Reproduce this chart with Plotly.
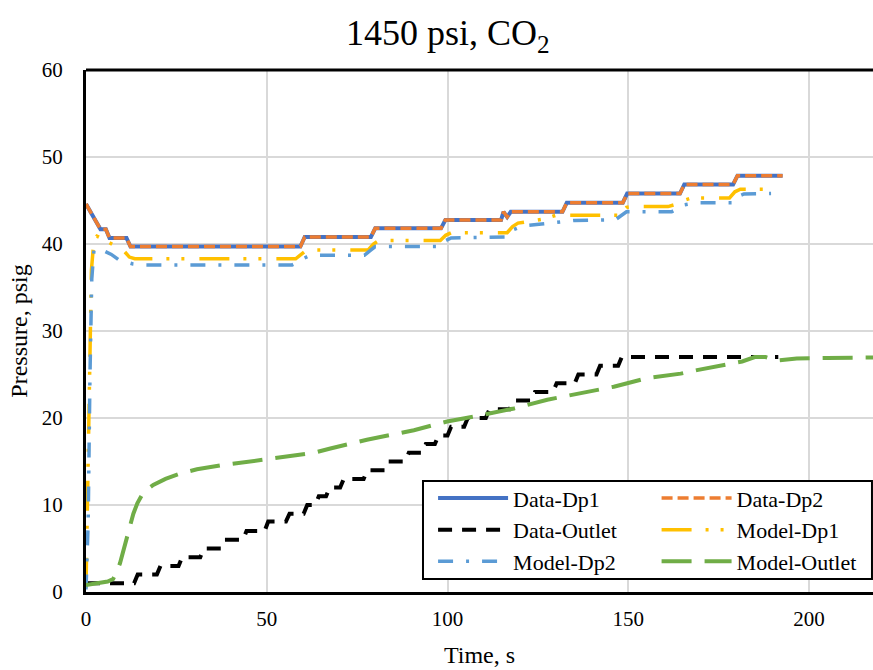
import plotly.graph_objects as go

# ---------------- data ----------------
dp1_t = [0, 4.0, 5.5, 6.5, 11.2, 12.3, 59.3, 60.5, 78.8, 80.0, 98.2, 99.4, 114.8, 115.5,
         116.5, 117.5, 131.8, 133.0, 148.5, 149.7, 164.3, 165.5, 179.0, 180.2, 192.7]
dp1_v = [44.6, 41.7, 41.7, 40.7, 40.7, 39.7, 39.7, 40.8, 40.8, 41.8, 41.8, 42.75, 42.75, 43.7,
         43.1, 43.7, 43.7, 44.75, 44.75, 45.8, 45.8, 46.85, 46.85, 47.85, 47.85]

dp2_t = [0, 4.0, 5.5, 6.5, 11.2, 12.3, 59.3, 60.5, 78.8, 80.0, 98.2, 99.4, 114.8, 115.5,
         116.5, 117.5, 131.8, 133.0, 148.5, 149.7, 164.3, 165.5, 179.0, 180.2, 192.7]
dp2_v = [44.6, 41.7, 41.7, 40.7, 40.7, 39.7, 39.7, 40.8, 40.8, 41.8, 41.8, 42.75, 42.75, 43.7,
         43.1, 43.7, 43.7, 44.75, 44.75, 45.8, 45.8, 46.85, 46.85, 47.85, 47.85]

out_t = [0, 13.3, 14.3, 19.6, 20.6, 25.6, 26.6, 31.6, 32.6, 37.4, 38.4, 43.4, 44.4, 49.4,
         50.4, 55.3, 56.3, 60.2, 61.2, 63.4, 64.4, 66.4, 67.4, 70.3, 71.3, 76.8, 77.8, 82.6,
         83.6, 88.3, 89.3, 93.0, 94.0, 96.5, 97.5, 100.0, 101.0, 104.6, 105.6, 110.6, 111.6,
         117.2, 118.2, 123.2, 124.2, 129.2, 130.2, 135.2, 136.2, 141.2, 142.2, 147.2, 148.2,
         191.5]
out_v = [1, 1, 2, 2, 3, 3, 4, 4, 5, 5, 6, 6, 7, 7,
         8.1, 8.1, 9, 9, 10, 10, 11, 11, 12, 12, 13, 13, 14, 14,
         15, 15, 16, 16, 17, 17, 18, 18, 19, 19, 20, 20, 21,
         21, 22, 22, 23, 23, 24, 24, 25, 25, 26, 26, 27,
         27]

mdp1_t = [0, 0.5, 1.0, 1.5, 2.2, 3, 5, 7, 9, 10.5, 12, 13.5, 58, 59.5, 61, 78, 79.5, 81,
          98, 99.5, 101, 116.5, 118, 119.5, 123, 127, 130, 147.5, 149.5, 151, 161, 163.5,
          166, 167.5, 178, 179.5, 181, 189.5]
mdp1_v = [0.5, 12, 28, 37, 40.5, 40.9, 40.5, 40.0, 39.5, 39.2, 38.5, 38.3, 38.3, 38.8, 39.3,
          39.3, 40.0, 40.4, 40.4, 41.0, 41.3, 41.3, 42.0, 42.4, 42.6, 42.9, 43.3, 43.3, 44.2,
          44.3, 44.3, 44.6, 45.1, 45.3, 45.3, 46.0, 46.3, 46.3]

mdp2_t = [0, 0.6, 1.1, 1.6, 2.2, 3, 5, 7, 9, 11, 13, 15, 57, 58.5, 60, 62, 77, 78.5, 80,
          98, 99.5, 101, 116.5, 118, 121, 126, 130.7, 135, 146.5, 148, 149.5, 162, 164,
          165.5, 169, 179, 180.5, 182, 189.5]
mdp2_v = [0.3, 8, 25, 36, 39.3, 39.5, 39.2, 38.8, 38.2, 37.9, 37.7, 37.6, 37.6, 37.9, 38.3,
          38.7, 38.7, 39.2, 39.7, 39.7, 40.4, 40.7, 40.8, 41.6, 42.1, 42.3, 42.5, 42.7, 42.8,
          43.3, 43.7, 43.7, 44.2, 44.5, 44.75, 44.75, 45.5, 45.75, 45.8]

mout_t = [0, 3, 6, 7.5, 8.5, 9.4, 10.3, 11.3, 12.2, 13.1, 14.2, 15.4, 17, 18.6, 22, 26,
          30.7, 38, 49, 55, 63, 67.6, 77.7, 90.7, 99.9, 109, 118.4, 127.6, 136.8, 146,
          155.3, 164.5, 169, 173.5, 181.5, 185, 188, 191, 196.6, 205, 218]
mout_v = [0.8, 1.0, 1.2, 1.5, 2.3, 3.3, 4.8, 6.4, 7.8, 9.0, 10.2, 11.1, 11.8, 12.3, 13.0,
          13.6, 14.1, 14.6, 15.2, 15.5, 16.0, 16.5, 17.5, 18.6, 19.6, 20.3, 21.1, 22.1,
          22.9, 23.6, 24.6, 25.1, 25.5, 25.9, 26.5, 27.0, 27.0, 26.6, 26.85, 26.9, 26.95]

x_ticks = [0, 50, 100, 150, 200]
y_ticks = [0, 10, 20, 30, 40, 50, 60]

FONT = "Liberation Serif, Times New Roman, serif"

fig = go.Figure()
fig.add_trace(go.Scatter(x=dp1_t, y=dp1_v, name="Data-Dp1", mode="lines", legend="legend",
                         line=dict(color="#4472C4", width=4)))
fig.add_trace(go.Scatter(x=dp2_t, y=dp2_v, name="Data-Dp2", mode="lines", legend="legend2",
                         line=dict(color="#ED7D31", width=3.5, dash="11px,5px")))
fig.add_trace(go.Scatter(x=out_t, y=out_v, name="Data-Outlet", mode="lines", legend="legend",
                         line=dict(color="black", width=4, dash="14px,10px")))
fig.add_trace(go.Scatter(x=mdp1_t, y=mdp1_v, name="Model-Dp1", mode="lines", legend="legend2",
                         line=dict(color="#FFC000", width=3.5,
                                   dash="30px,14px,3px,12px,3px,15px")))
fig.add_trace(go.Scatter(x=mdp2_t, y=mdp2_v, name="Model-Dp2", mode="lines", legend="legend",
                         line=dict(color="#5B9BD5", width=3.5, dash="15px,13px,3px,13px")))
fig.add_trace(go.Scatter(x=mout_t, y=mout_v, name="Model-Outlet", mode="lines", legend="legend2",
                         line=dict(color="#70AD47", width=4, dash="30px,13px")))

axis_common = dict(showline=True, linecolor="black", linewidth=3, showgrid=True,
                   gridcolor="#D9D9D9", gridwidth=2, zeroline=False, ticks="",
                   tickfont=dict(size=21, family=FONT, color="black"))

fig.update_xaxes(range=[0, 217.7], tickvals=x_ticks, ticklabelstandoff=6,
                 title=dict(text="Time, s", font=dict(size=24, family=FONT), standoff=16),
                 **axis_common)
fig.update_yaxes(range=[0, 60], tickvals=y_ticks, ticklabelstandoff=16,
                 title=dict(text="Pressure, psig", font=dict(size=24, family=FONT), standoff=8),
                 **axis_common)

leg_common = dict(bgcolor="rgba(0,0,0,0)", borderwidth=0, itemwidth=70,
                  font=dict(size=22, family=FONT, color="black"),
                  xanchor="left", yanchor="top", tracegroupgap=0, itemclick=False)

fig.update_layout(
    width=873, height=670,
    margin=dict(l=86, r=0, t=70, b=78),
    paper_bgcolor="white", plot_bgcolor="white",
    font=dict(family=FONT, size=21, color="black"),
    title=dict(text="1450 psi, CO<sub>2</sub>", x=0.513, xref="container", xanchor="center",
               y=0.951, yref="container", yanchor="middle",
               font=dict(size=36, family=FONT, color="black")),
    showlegend=True,
    legend=dict(x=0.441, y=0.2197, **leg_common),
    legend2=dict(x=0.725, y=0.2197, **leg_common),
    shapes=[
        dict(type="rect", xref="paper", yref="paper", x0=0.4282, x1=0.9987, y0=0.0249,
             y1=0.2126, line=dict(color="black", width=2), fillcolor="white", layer="above"),
        dict(type="line", xref="paper", yref="paper", x0=0, x1=1, y0=1, y1=1,
             line=dict(color="black", width=3), layer="above"),
    ],
)

fig.write_html("out.html")
